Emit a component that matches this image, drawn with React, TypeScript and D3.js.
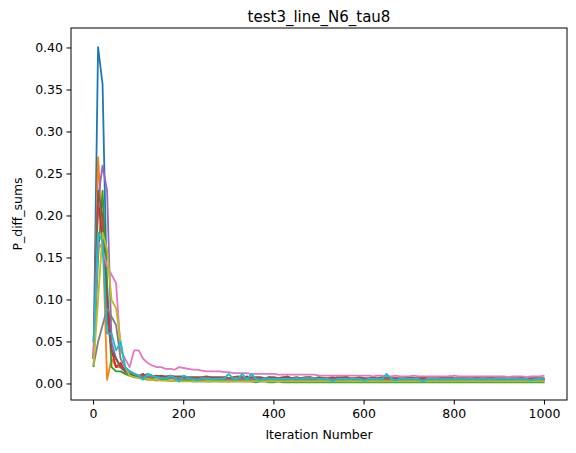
import React from 'react';
import * as d3 from 'd3';

const title = 'test3_line_N6_tau8';
const xTicks = [0, 200, 400, 600, 800, 1000];
const yTicks = [0, 0.05, 0.1, 0.15, 0.2, 0.25, 0.3, 0.35, 0.4];
const colors = ['#1f77b4', '#ff7f0e', '#2ca02c', '#d62728', '#9467bd', '#8c564b', '#e377c2', '#7f7f7f', '#bcbd22', '#17becf'];

// values in thousandths, x = 0, 10, ..., 1000
const blue = [30,401,357,100,40,30,20,18,15,12,10,10,9,9,8,8,8,7,7,7,7,7,6,6,7,6,6,6,6,7,6,6,6,5,6,6,6,6,5,6,6,6,5,5,6,6,5,6,5,5,6,5,5,6,5,5,5,6,5,5,5,5,6,5,5,5,5,5,6,5,5,5,5,5,5,6,5,5,5,5,5,5,5,5,6,5,5,5,5,5,5,5,5,5,5,5,5,5,5,5,5];
const orange = [30,270,180,5,30,20,20,15,10,10,8,6,5,5,4,5,4,4,4,4,4,4,3,4,4,3,3,4,3,3,3,3,4,3,3,3,3,3,3,3,3,3,3,3,3,3,3,3,3,3,3,3,3,3,3,3,3,3,3,3,3,3,3,3,3,3,3,3,3,3,3,3,3,3,3,3,3,3,3,3,3,3,3,3,3,3,3,3,3,3,3,3,3,3,3,3,3,3,3,3,3];
const green = [20,150,230,120,20,15,15,12,10,8,8,7,6,6,5,5,5,4,4,4,4,4,3,3,3,3,3,3,3,3,3,3,3,3,3,3,2,3,3,2,2,3,2,2,2,2,2,2,2,2,2,2,2,2,2,2,2,2,2,2,2,2,2,2,2,2,2,2,2,2,2,2,2,2,2,2,2,2,2,2,2,2,2,2,2,2,2,2,2,2,2,2,2,2,2,2,2,2,2,2,2];
const red = [30,220,170,100,40,20,25,15,12,10,9,12,8,9,10,8,7,8,6,5,8,7,6,6,5,7,6,6,5,8,6,5,7,6,9,6,5,7,6,8,6,6,7,9,6,5,7,6,8,6,6,7,6,5,8,7,9,6,6,7,5,6,8,6,6,9,6,7,5,6,6,7,6,8,6,5,6,7,6,9,6,6,7,6,6,8,6,6,7,6,6,5,7,6,6,8,6,6,7,6,6];
const purple = [50,220,260,230,50,30,20,15,12,10,9,9,8,8,8,7,7,7,7,6,6,6,6,6,6,6,6,6,6,6,6,6,6,6,6,6,6,6,6,6,6,6,6,6,6,6,6,6,6,6,6,6,6,6,6,6,6,6,6,6,6,6,6,6,6,6,6,6,6,6,6,6,6,6,6,6,6,6,6,6,6,6,6,6,6,6,6,6,6,6,6,6,6,6,6,6,6,6,6,6,6];
const brown = [30,230,200,80,40,30,20,15,12,10,10,9,12,10,9,10,9,10,9,9,9,8,8,8,8,9,8,8,8,8,7,8,9,8,7,8,8,8,7,8,8,7,8,8,7,8,7,8,8,7,8,7,7,8,7,8,7,7,7,8,7,7,7,7,8,7,7,7,7,7,8,7,7,7,7,7,7,7,8,7,7,7,7,7,7,7,7,7,8,7,7,7,7,7,7,7,7,7,7,7,7];
const pink = [30,170,160,140,130,120,40,30,20,40,40,30,25,22,20,20,18,18,17,20,19,18,17,17,16,15,15,15,15,14,14,13,13,13,13,12,12,12,12,12,12,11,11,11,11,11,11,11,11,11,10,10,10,10,10,10,10,10,10,10,10,10,9,10,10,9,9,10,9,9,9,10,9,9,9,9,9,9,9,9,10,9,9,9,9,9,9,9,9,9,9,9,8,9,9,9,8,9,9,9,10];
const gray = [22,50,70,90,80,70,30,20,15,12,10,9,8,8,8,7,7,7,7,6,6,6,6,6,6,6,6,5,5,5,5,5,5,5,5,5,5,5,5,5,5,5,5,5,5,5,5,5,5,5,5,5,5,5,5,5,5,5,5,5,5,5,5,5,5,5,5,5,5,5,5,5,5,5,5,5,5,5,5,5,5,5,5,5,5,5,5,5,5,5,5,5,5,5,5,5,5,5,5,5,5];
const olive = [22,100,180,160,100,90,50,20,10,8,7,6,6,5,5,4,4,4,4,3,3,3,3,3,3,3,3,3,3,3,3,3,3,3,3,3,3,3,3,3,3,3,3,3,3,3,3,3,3,3,3,3,3,3,3,3,3,3,3,3,3,3,3,3,3,3,3,3,3,3,3,3,3,3,3,3,3,3,3,3,3,3,3,3,3,3,3,3,3,3,3,3,3,3,3,3,3,3,3,3,3];
const cyan = [50,180,170,60,60,40,50,20,15,12,10,5,12,10,8,7,6,10,7,3,10,7,6,4,7,6,6,6,6,7,12,6,6,12,5,12,6,4,7,6,6,6,6,6,6,7,6,7,7,7,6,6,6,3,6,6,6,6,6,6,4,6,6,6,6,12,6,4,6,6,6,6,6,3,6,6,6,6,6,6,6,6,6,6,6,6,6,6,6,6,6,6,6,6,6,6,6,4,6,6,6];
const series = [blue, orange, green, red, purple, brown, pink, gray, olive, cyan];

const W = 576, H = 453;
const m = { left: 71, right: 567, top: 28, bottom: 400 };

export default function App() {
  const x = d3.scaleLinear().domain([-50, 1050]).range([m.left, m.right]);
  const y = d3.scaleLinear().domain([-0.0191, 0.4238]).range([m.bottom, m.top]);
  const line = d3.line<number>().x((_, i) => x(i * 10)).y(d => y(d / 1000));
  const font = 'DejaVu Sans, sans-serif';
  return (
    <svg width={W} height={H} style={{ position: 'absolute', left: 0, top: 0 }} fontFamily={font}>
      <rect width={W} height={H} fill="#fff" />
      <defs><clipPath id="c"><rect x={m.left} y={m.top} width={m.right - m.left} height={m.bottom - m.top} /></clipPath></defs>
      <g clipPath="url(#c)">
        {series.map((s, i) => (
          <path key={i} d={line(s) || ''} fill="none" stroke={colors[i]} strokeWidth={1.8} strokeLinejoin="round" />
        ))}
      </g>
      <rect x={m.left} y={m.top} width={m.right - m.left} height={m.bottom - m.top} fill="none" stroke="#000" strokeWidth={1} />
      {xTicks.map(t => (
        <g key={t}>
          <line x1={x(t)} x2={x(t)} y1={m.bottom} y2={m.bottom + 4.5} stroke="#000" />
          <text x={x(t)} y={m.bottom + 18} textAnchor="middle" fontSize={12.5}>{t}</text>
        </g>
      ))}
      {yTicks.map(t => (
        <g key={t}>
          <line x1={m.left - 4.5} x2={m.left} y1={y(t)} y2={y(t)} stroke="#000" />
          <text x={m.left - 8} y={y(t) + 4.5} textAnchor="end" fontSize={12.5}>{t.toFixed(2)}</text>
        </g>
      ))}
      <text x={(m.left + m.right) / 2} y={439} textAnchor="middle" fontSize={12.5}>Iteration Number</text>
      <text transform={`translate(22,${(m.top + m.bottom) / 2}) rotate(-90)`} textAnchor="middle" fontSize={12.5}>P_diff_sums</text>
      <text x={(m.left + m.right) / 2} y={22} textAnchor="middle" fontSize={15}>{title}</text>
    </svg>
  );
}
